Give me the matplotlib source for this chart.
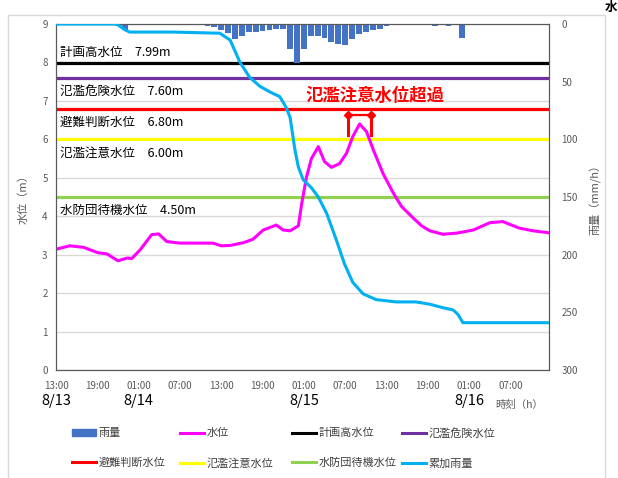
import numpy as np
import matplotlib.pyplot as plt
from matplotlib.patches import Rectangle
from matplotlib.lines import Line2D

plt.rcParams['font.family'] = ['Noto Sans CJK JP', 'DejaVu Sans']

# 水位 (m) : 8/13 13:00 からの経過時間 (h)
level_h = [0, 2, 4, 6.1, 7.4, 9, 10.3, 11, 12.2, 13.9, 14.9, 16.1, 18, 22.8, 24, 25.3,
           27.2, 28.6, 30.1, 32, 33, 34, 35.2, 35.7, 36.4, 37.1, 38.1, 39, 40, 41.2,
           42.2, 43.1, 44.1, 45.1, 46.1, 47.5, 49, 50.2, 51.9, 53.1, 54.3, 56.2, 58.2,
           60.6, 63, 64.9, 67.3, 69.3, 71.5]
level = [3.14, 3.23, 3.19, 3.05, 3.02, 2.84, 2.91, 2.9, 3.12, 3.52, 3.54, 3.34, 3.3, 3.3,
         3.23, 3.24, 3.31, 3.4, 3.64, 3.77, 3.64, 3.62, 3.75, 4.34, 5.03, 5.5, 5.81, 5.42,
         5.27, 5.37, 5.64, 6.07, 6.4, 6.2, 5.72, 5.11, 4.6, 4.25, 3.95, 3.75, 3.62, 3.53,
         3.56, 3.64, 3.83, 3.86, 3.69, 3.62, 3.57]

# 累加雨量 (mm)
cum_h = [0, 8.8, 10, 10.7, 17, 23.8, 25.3, 26.7, 28.1, 29.6, 31.1, 32.5, 33.4, 34, 34.7,
         35.2, 35.9, 37.1, 38.1, 39.3, 40.7, 41.9, 43.1, 44.6, 46.5, 49.4, 52.3, 54.3,
         56.2, 57.7, 58.4, 59.1, 71.5]
cum_rain = [0, 0, 5, 7, 7, 8, 14, 33, 46, 54, 59, 63, 72, 81, 109, 124, 135, 142, 150, 164,
            187, 208, 224, 234, 239, 241, 241, 243, 246, 248, 252, 259, 259]

# 時間雨量 (mm/h)
rain_h = list(range(72))
rain = [0, 0, 0, 0, 0, 0, 0, 0, 0, 2, 5, 0, 0, 0, 0, 0, 0, 1, 1, 1, 1, 1, 2, 3, 5,
        8, 13, 10, 7, 7, 6, 5, 4, 4, 22, 34, 22, 10, 10, 12, 16, 17, 18, 13, 9, 7, 5,
        4, 2, 1, 1, 1, 1, 1, 1, 2, 1, 2, 1, 12, 0, 0, 0, 0, 0, 0, 0, 0, 0, 0, 0, 0]

# 基準水位
th_names = ['計画高水位', '氾濫危険水位', '避難判断水位', '氾濫注意水位', '水防団待機水位']
th_values = [7.99, 7.60, 6.80, 6.00, 4.50]
th_colors = ['#000000', '#7030A0', '#FF0000', '#FFFF00', '#92D050']
th_text_dy = [0.28, -0.34, -0.37, -0.35, -0.34]

tick_h = [0, 6, 12, 18, 24, 30, 36, 42, 48, 54, 60, 66]
tick_labels = ['13:00', '19:00', '01:00', '07:00'] * 3
date_h = [0, 12, 36, 60]
date_labels = ['8/13', '8/14', '8/15', '8/16']

fig = plt.figure(figsize=(6.18, 4.78), dpi=100)
fig.patches.append(Rectangle((0.013, -0.01), 0.966, 0.979, transform=fig.transFigure,
                             fill=False, edgecolor='#D9D9D9', lw=1))
fig.text(0.979, 0.998, '水', fontsize=9, fontweight='bold', ha='left', va='top')

ax = fig.add_axes([0.0906, 0.226, 0.7977, 0.7238])
ax2 = ax.twinx()

ax.set_xlim(0, 71.6)
ax.set_ylim(0, 9)
ax2.set_ylim(300, 0)

ax.yaxis.grid(True, color='#D9D9D9', lw=1)
ax.set_axisbelow(True)

for name, v, c, dy in zip(th_names, th_values, th_colors, th_text_dy):
    ax.axhline(v, color=c, lw=2.3, zorder=2)
    ax.text(0.6, v + dy, f'{name}　{v:.2f}m', fontsize=9, va='center', ha='left', zorder=3)

ax.plot(level_h, level, color='#FF00FF', lw=2.2, zorder=4)

# 氾濫注意水位超過の期間
lh = np.linspace(level_h[0], level_h[-1], 2000)
lv = np.interp(lh, level_h, level)
over = lh[lv >= 6.0]
x0, x1 = over[0] - 0.5, over[-1] + 0.2
ax.plot([x0, x0], [6.12, 6.63], color='red', lw=2.2, zorder=5)
ax.plot([x1, x1], [6.12, 6.63], color='red', lw=2.2, zorder=5)
ax.plot([x0, x1], [6.63, 6.63], color='red', lw=1.6, marker='D', ms=4, zorder=5)
ax.text((x0 + x1) / 2 + 2.2, 7.12, '氾濫注意水位超過', color='red', fontsize=12.5,
        fontweight='bold', ha='center', va='center')

ax2.bar(rain_h, rain, width=0.85, color='#4472C4', zorder=2)
ax2.plot(cum_h, cum_rain, color='#00B0F0', lw=2.2, zorder=3)

ax.set_xticks(tick_h)
ax.set_xticklabels(tick_labels)
ax.set_yticks(range(10))
ax2.set_yticks(range(0, 301, 50))
for a in (ax, ax2):
    a.tick_params(length=0, labelsize=7, colors='#595959', pad=6)
    for s in a.spines.values():
        s.set_color('#595959')
ax.tick_params(axis='x', pad=8)
ax2.tick_params(axis='y', pad=9)

for h, d in zip(date_h, date_labels):
    ax.text(h, -0.089, d, transform=ax.get_xaxis_transform(), fontsize=10.5,
            ha='center', va='center')
ax.text(0.94, -0.10, '時刻（h）', transform=ax.transAxes, fontsize=7.5, color='#595959',
        ha='center', va='center')

ax.set_ylabel('水位（m）', fontsize=8, color='#595959', labelpad=10)
ax2.set_ylabel('雨量（mm/h）', fontsize=8, color='#595959', rotation=90, labelpad=8)

# 凡例 (2行 x 4列、列ごとに配置)
handles = [Rectangle((0, 0), 1, 1, color='#4472C4'),
           Line2D([], [], color='#FF00FF', lw=2.2)]
handles += [Line2D([], [], color=c, lw=2.2) for c in th_colors]
handles.append(Line2D([], [], color='#00B0F0', lw=2.2))
labels = ['雨量', '水位'] + th_names + ['累加雨量']
col_x = [0.1165, 0.291, 0.4725, 0.650]
for j, cx in enumerate(col_x):
    leg = fig.legend([handles[j], handles[j + 4]], [labels[j], labels[j + 4]],
                     loc='upper left', bbox_to_anchor=(cx, 0.104), frameon=False,
                     fontsize=8, handlelength=2.2, handletextpad=0.2,
                     labelspacing=1.75, borderpad=0, borderaxespad=0)
    for t in leg.get_texts():
        t.set_color('#404040')

fig.savefig('out.png', dpi=100)
